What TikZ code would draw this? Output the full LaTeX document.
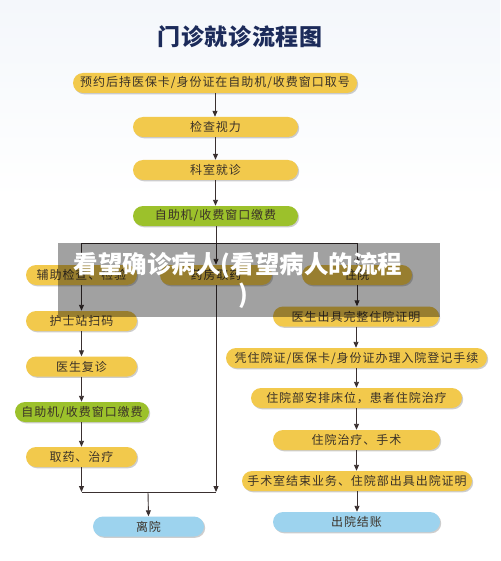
\documentclass[tikz,border=0pt]{standalone}
\usepackage{fontspec}
\newfontfamily\cjk[LetterSpace=8]{Noto Sans CJK SC}
\newfontfamily\cjktitle[LetterSpace=3]{Noto Sans CJK SC}
\newfontfamily\cjkover{Noto Sans CJK SC}
\usetikzlibrary{arrows.meta,shadows}
\definecolor{nodey}{HTML}{F2C94C}
\definecolor{nodeg}{HTML}{9CC12B}
\definecolor{nodeb}{HTML}{9DD3EE}
\definecolor{txt}{HTML}{3B3228}
\definecolor{linec}{HTML}{3A3030}
\definecolor{titlec}{HTML}{1C2B5A}
\definecolor{bgtop}{HTML}{F4F7FB}
\tikzset{
  box/.style={rounded corners=10pt, minimum height=20pt, inner sep=0pt,
    font=\cjk\fontsize{12}{12}\selectfont, text=txt,
    drop shadow={shadow xshift=1.2pt, shadow yshift=-1.3pt, opacity=0.28, fill=black!70}},
  ybox/.style={box, fill=nodey},
  gbox/.style={box, fill=nodeg},
  bbox/.style={box, fill=nodeb},
  arr/.style={draw=linec, line width=0.9pt, -{Triangle[width=5pt,length=6pt]}},
  ln/.style={draw=linec, line width=0.9pt},
}
\begin{document}
\begin{tikzpicture}[x=1pt,y=-1pt]
\useasboundingbox (0,0) rectangle (500,561);
\fill[white] (0,0) rectangle (500,561);
\shade[top color=bgtop, bottom color=white] (0,0) rectangle (500,200);

\node[font=\cjktitle\bfseries\fontsize{23}{23}\selectfont, text=titlec] (title) at (240,37) {门诊就诊流程图};

\node[ybox, minimum width=284pt] (n1) at (215,83) {预约后持医保卡/身份证在自助机/收费窗口取号};
\node[ybox, minimum width=165pt] (n2) at (215.5,127) {检查视力};
\node[ybox, minimum width=165pt] (n3) at (215.5,170) {科室就诊};
\node[gbox, minimum width=165pt] (n4) at (215.5,216) {自助机/收费窗口缴费};

\node[ybox, minimum width=111pt] (n5) at (81.5,275) {辅助检查、检验};
\node[ybox, minimum width=112pt] (n6) at (216,275) {药房取药};
\node[ybox, minimum width=110pt] (n7) at (357,275) {住院};

\node[ybox, minimum width=111pt] (n8) at (81.5,321) {护士站扫码};
\node[ybox, minimum width=111pt] (n9) at (81.5,366.5) {医生复诊};
\node[gbox, minimum width=134pt] (n10) at (82,412) {自助机/收费窗口缴费};
\node[ybox, minimum width=111pt] (n11) at (81.5,457) {取药、治疗};
\node[bbox, minimum width=111pt] (n12) at (148.5,526.5) {离院};

\node[ybox, minimum width=166pt] (n13) at (356,316.5) {医生出具完整住院证明};
\node[ybox, minimum width=261pt] (n14) at (356.5,358) {凭住院证/医保卡/身份证办理入院登记手续};
\node[ybox, minimum width=211pt] (n15) at (356.5,398) {住院部安排床位，患者住院治疗};
\node[ybox, minimum width=167pt] (n16) at (356.5,440) {住院治疗、手术};
\node[ybox, minimum width=230pt] (n17) at (357,481) {手术室结束业务、住院部出具出院证明};
\node[bbox, minimum width=167pt] (n18) at (356.5,522) {出院结账};

\coordinate (bar) at (216,243);
\coordinate (merge) at (148,492);

\draw[arr] (n1.south) -- (n1.south |- n2.north);
\draw[arr] (n2.south) -- (n2.south |- n3.north);
\draw[arr] (n3.south) -- (n3.south |- n4.north);
\draw[arr] (n6.north |- n4.south) -- (n6.north);
\draw[arr] (bar) -| (n5.north);
\draw[arr] (bar) -| (n7.north);

\draw[arr] (n5) -- (n8);
\draw[arr] (n8) -- (n9);
\draw[arr] (n9.south) -- (n9.south |- n10.north);
\draw[arr] (n10.south -| n11) -- (n11.north);
\draw[arr] (n11.south) -- (n11.south |- merge);
\draw[arr] (n6.south) -- (n6.south |- merge);
\draw[ln] (n11.south |- merge) -- (n6.south |- merge);
\draw[arr] (merge) -- (n12.north);

\draw[arr] (n7.south) -- (n7.south |- n13.north);
\draw[arr] (n13.south) -- (n13.south |- n14.north);
\draw[arr] (n14.south) -- (n14.south |- n15.north);
\draw[arr] (n15.south) -- (n15.south |- n16.north);
\draw[arr] (n16.south) -- (n16.south |- n17.north);
\draw[arr] (n17.south) -- (n17.south |- n18.north);

\fill[black, opacity=0.37] (58,243) rectangle (440,317);
\node[font=\cjkover\bfseries\fontsize{24.5}{24.5}\selectfont, text=white] (ov1) at (238,265) {看望确诊病人(看望病人的流程};
\node[font=\cjkover\bfseries\fontsize{24.5}{24.5}\selectfont, text=white] (ov2) at (243,296) {)};
\end{tikzpicture}
\end{document}
